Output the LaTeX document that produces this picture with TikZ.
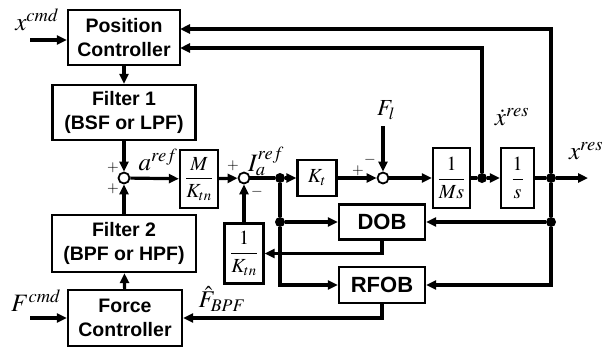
\documentclass[tikz,border=0pt]{standalone}
\usepackage{mathptmx}
\usepackage[no-math]{fontspec}
\setsansfont{Liberation Sans}
\usetikzlibrary{arrows.meta}
\begin{document}
\begin{tikzpicture}[x=1pt,y=-1pt,
  blk/.style={draw, line width=2.3pt, font=\sffamily\bfseries\fontsize{19.5}{23.5}\selectfont, align=center, inner sep=0pt},
  fblk/.style={draw, line width=2.3pt, font=\fontsize{20}{22}\selectfont, inner sep=0pt},
  ln/.style={line width=3.2pt},
  sig/.style={line width=3.2pt, -{Triangle[length=10pt,width=9pt]}},
  sumc/.style={circle, draw, line width=1.8pt, fill=white, minimum size=11pt, inner sep=0pt},
  dotn/.style={circle, fill, minimum size=10pt, inner sep=0pt},
  lbl/.style={font=\fontsize{25}{27}\selectfont, inner sep=0pt},
  sgn/.style={font=\fontsize{15}{15}\selectfont, inner sep=0pt}
]
\useasboundingbox (0,0) rectangle (609,349);

% blocks
\node[blk, minimum width=112pt, minimum height=55pt] (PC) at (124,37.5) {Position\\Controller};
\node[blk, minimum width=143pt, minimum height=55pt] (F1) at (124,112.5) {Filter 1\\(BSF or LPF)};
\node[blk, minimum width=144pt, minimum height=57pt] (F2) at (124,243.5) {Filter 2\\(BPF or HPF)};
\node[blk, minimum width=114pt, minimum height=56pt] (FC) at (125,318) {Force\\Controller};
\node[blk, minimum width=86pt, minimum height=35pt, font=\sffamily\bfseries\fontsize{22}{24}\selectfont] (DOB) at (382,222) {DOB};
\node[blk, minimum width=86pt, minimum height=36pt, font=\sffamily\bfseries\fontsize{22}{24}\selectfont] (RFOB) at (382,285) {RFOB};

\node[fblk, minimum width=38pt, minimum height=58pt] (MK) at (199,179) {$\displaystyle\frac{M}{K_{tn}}$};
\node[fblk, minimum width=39pt, minimum height=36pt] (Kt) at (317,178) {$K_t$};
\node[fblk, minimum width=37pt, minimum height=60pt] (Ms) at (451.5,178) {$\displaystyle\frac{1}{Ms}$};
\node[fblk, minimum width=33pt, minimum height=60pt] (sb) at (517.5,178) {$\displaystyle\frac{1}{s}$};
\node[fblk, minimum width=39pt, minimum height=60pt] (Ktn) at (244,253.5) {$\displaystyle\frac{1}{K_{tn}}$};

% summing junctions and branch points
\node[sumc] (s1) at (124,178) {};
\node[sumc] (s2) at (244,178) {};
\node[sumc] (s3) at (383,178) {};
\node[dotn] (dA) at (280,178) {};
\node[dotn] (dB) at (280,222) {};
\node[dotn] (dC) at (482,178) {};
\node[dotn] (dD) at (551,178) {};
\node[dotn] (dE) at (551,222) {};

\coordinate (xin) at (30,40);
\coordinate (fin) at (30,318);
\coordinate (flin) at (383,126);
\coordinate (out) at (588,178);
\coordinate (fb1) at (180,29);
\coordinate (fb2) at (180,48);

% forward path
\draw[sig] (xin) -- (PC.west |- xin);
\draw[sig] (PC) -- (F1);
\draw[sig] (F1) -- (s1);
\draw[sig] (fin) -- (FC.west |- fin);
\draw[sig] (FC) -- (F2);
\draw[sig] (F2) -- (s1);
\draw[sig] (s1) -- (MK);
\draw[sig] (MK) -- (s2);
\draw[ln] (s2) -- (dA);
\draw[sig] (dA) -- (Kt);
\draw[sig] (Kt) -- (s3);
\draw[sig] (flin) -- (s3);
\draw[sig] (s3) -- (Ms);
\draw[ln] (Ms) -- (dC);
\draw[sig] (dC) -- (sb);
\draw[ln] (sb) -- (dD);
\draw[sig] (dD) -- (out);

% feedback to position controller
\draw[sig] (dD) |- (fb1);
\draw[sig] (dC) |- (fb2);

% observers
\draw[ln] (dA) -- (dB);
\draw[sig] (dB) -- (DOB);
\draw[sig] (dB) |- (RFOB);
\draw[ln] (dD) -- (dE);
\draw[sig] (dE) -- (DOB);
\draw[sig] (dE) |- (RFOB);
\draw[sig] (DOB.south) |- (Ktn.east);
\draw[sig] (Ktn) -- (s2);
\draw[sig] (RFOB.south) |- (FC.east);

% labels
\node[lbl] (lxc) at (37,20) {$x^{cmd}$};
\node[lbl] (lfc) at (36,301) {$F^{cmd}$};
\node[lbl] (lar) at (158,160) {$a^{ref}$};
\node[lbl] (lia) at (266,161) {$I_a^{ref}$};
\node[lbl, font=\fontsize{23}{25}\selectfont] (lfl) at (386,110) {$F_l$};
\node[lbl] (lxd) at (512,117) {$\dot{x}^{res}$};
\node[lbl] (lxr) at (586,151) {$x^{res}$};
\node[lbl, font=\fontsize{24}{26}\selectfont] (lfh) at (222,299) {$\hat{F}_{BPF}$};

% signs
\node[sgn] (p1) at (113,168) {$+$};
\node[sgn] (p2) at (113,189) {$+$};
\node[sgn] (p3) at (233,166) {$+$};
\node[sgn] (m1) at (257,192) {$-$};
\node[sgn] (p4) at (358,171) {$+$};
\node[sgn] (m2) at (370,160) {$-$};
\end{tikzpicture}
\end{document}
